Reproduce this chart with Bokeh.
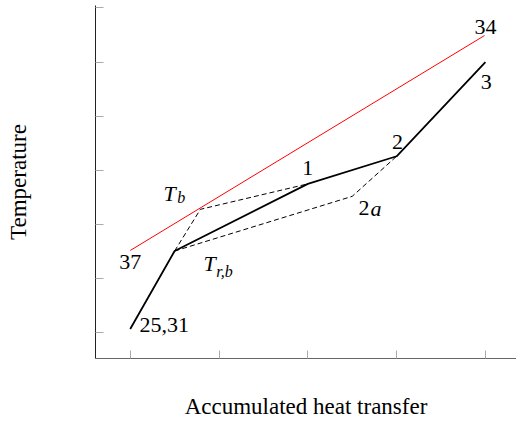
from bokeh.plotting import figure
from bokeh.models import Range1d, FixedTicker
from bokeh.embed import file_html
from bokeh.resources import INLINE
from bokeh.core.properties import value

# ---- data ----
x_ticks = [0, 1, 2, 3, 4]
y_ticks = [0, 1, 2, 3, 4, 5, 6]

path_x = [0.0, 0.50, 2.0, 3.0, 4.0]
path_y = [0.07, 1.51, 2.75, 3.26, 5.0]

red_x = [0.0, 3.99]
red_y = [1.52, 5.49]

tb_x = [0.50, 0.79, 2.0]
tb_y = [1.51, 2.28, 2.75]

trb_x = [0.50, 2.50, 3.0]
trb_y = [1.51, 2.52, 3.26]

label_text = ["34", "3", "2", "1", "37"]
label_x = [4.0, 4.01, 3.01, 2.0, 0.0]
label_y = [5.64, 4.64, 3.53, 3.05, 1.30]

FONT = value("Liberation Serif")

p = figure(frame_width=421, frame_height=353,
           x_range=Range1d(-0.391, 4.350), y_range=Range1d(-0.4746, 6.044),
           output_backend="svg", toolbar_location=None,
           min_border_left=95, min_border_right=0, min_border_top=5,
           min_border_bottom=63)
p.grid.visible = False
p.outline_line_color = None
p.background_fill_color = "white"

for ax, ticks in ((p.xaxis, x_ticks), (p.yaxis, y_ticks)):
    ax.ticker = FixedTicker(ticks=ticks)
    ax.major_label_overrides = {t: "" for t in ticks}
    ax.major_tick_in = 8
    ax.major_tick_out = 0
    ax.minor_tick_line_color = None
    ax.major_tick_line_color = "#aaaaaa"
    ax.major_label_text_font_size = "1px"
    ax.major_label_standoff = 0
    ax.axis_label_text_font = "Liberation Serif"
    ax.axis_label_text_font_size = "23px"
    ax.axis_label_text_font_style = "normal"
    ax.axis_label_text_color = "black"

p.xaxis.axis_label = "Accumulated heat transfer"
p.yaxis.axis_label = "Temperature"
p.xaxis.axis_line_color = "#666666"
p.yaxis.axis_line_color = "#222222"
p.xaxis.axis_label_standoff = 35
p.yaxis.axis_label_standoff = 65

p.line(red_x, red_y, line_color="#ff0000", line_width=1)
p.line(tb_x, tb_y, line_color="black", line_width=1, line_dash="5 3")
p.line(trb_x, trb_y, line_color="black", line_width=1, line_dash="5 3")
p.line(path_x, path_y, line_color="black", line_width=1.8)

p.text(x=label_x, y=label_y, text=label_text, text_font=FONT,
       text_font_size="22px", text_align="center", text_baseline="alphabetic",
       text_color="black")
p.text(x=[0.105], y=[0.136], text=["25,31"], text_font=FONT,
       text_font_size="22px", text_align="left", text_baseline="alphabetic")
p.text(x=[2.571], y=[2.296], text=["2"], text_font=FONT,
       text_font_size="22px", text_align="left", text_baseline="alphabetic")
p.text(x=[2.706], y=[2.296], text=["a"], text_font=FONT, text_font_style="italic",
       text_font_size="22px", text_align="left", text_baseline="alphabetic")
p.text(x=[0.376, 0.825], y=[2.573, 1.28], text=["T", "T"], text_font=FONT,
       text_font_style="italic", text_font_size="22px", text_align="left",
       text_baseline="alphabetic")
p.text(x=[0.53, 0.97], y=[2.50, 1.13], text=["b", "r,b"], text_font=FONT,
       text_font_style="italic", text_font_size="16px", text_align="left",
       text_baseline="alphabetic")

open("out.html", "w").write(file_html(p, INLINE))
